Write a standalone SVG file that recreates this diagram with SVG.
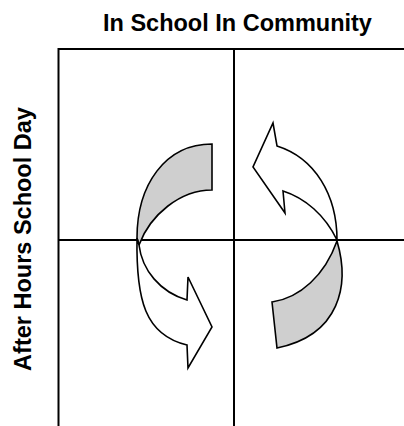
<svg xmlns="http://www.w3.org/2000/svg" width="404" height="426" viewBox="0 0 404 426">
<style>
.t{font-family:"Liberation Sans",Arial,sans-serif;font-weight:bold;font-size:23.5px;fill:#000}
.ln{stroke:#000;stroke-width:2;fill:none}
.ar{stroke:#000;stroke-width:1.6;stroke-linejoin:miter}
.w{fill:#fff}
.g{fill:#cfcfcf}
</style>
<rect width="404" height="426" fill="#fff"/>
<g id="title">
<text class="t" x="103" y="31">In School In Community</text>
</g>
<g id="side-label">
<text class="t" text-anchor="middle" transform="translate(31,239) rotate(-90)">After Hours School Day</text>
</g>
<g id="grid">
<line class="ln" x1="58" y1="49" x2="404" y2="49"/>
<line class="ln" x1="58.5" y1="48" x2="58.5" y2="426"/>
<line class="ln" x1="234" y1="49" x2="234" y2="426"/>
<line class="ln" x1="58" y1="240" x2="404" y2="240"/>
</g>
<g id="connectors">
<g id="left-arrow">
<path class="ar g" d="M212,144 C165,144 137,185 137,238 L139,245 C150,215 180,190 212,190 Z"/>
<path class="ar w" d="M137,238 C136,300 145,335 187,345 L188,368 L212,327 L188,277 L187,300 C160,292 142,270 139,245 Z"/>
</g>
<g id="right-arrow">
<path class="ar w" d="M337,240 C337,195 315,158 277,146 L273,123 L253,167 L285,213 L283,191 C305,198 325,215 337,240 Z"/>
<path class="ar g" d="M337,241 C350,285 340,335 277,348 L272,302 C300,298 325,275 337,241 Z"/>
</g>
</g>
</svg>
